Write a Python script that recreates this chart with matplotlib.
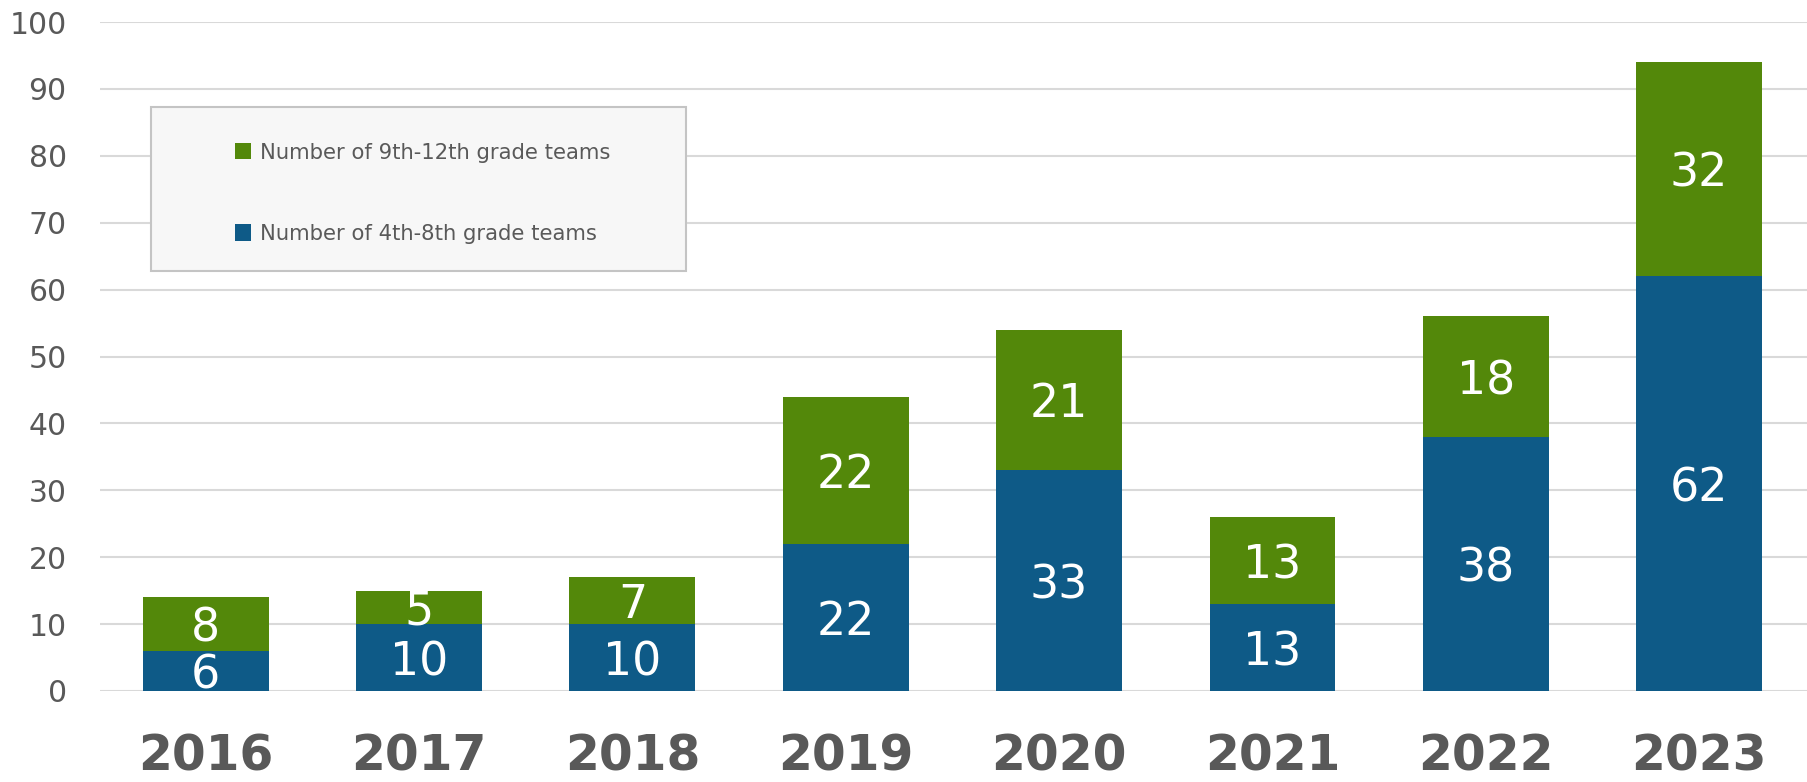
import numpy as np
import matplotlib
matplotlib.use('Agg')
import matplotlib.pyplot as plt
from matplotlib.patches import Rectangle

years = ['2016', '2017', '2018', '2019', '2020', '2021', '2022', '2023']
grades_4_8 = [6, 10, 10, 22, 33, 13, 38, 62]
grades_9_12 = [8, 5, 7, 22, 21, 13, 18, 32]
label_4_8 = 'Number of 4th-8th grade teams'
label_9_12 = 'Number of 9th-12th grade teams'

blue = '#0e5a87'
green = '#53880a'
grey_text = '#595959'

fig = plt.figure(figsize=(18.08, 7.82), dpi=100)
ax = fig.add_axes([100 / 1808, 91 / 782, 1708 / 1808, 669 / 782])

x = np.arange(len(years))
b1 = ax.bar(x, grades_4_8, width=0.59, color=blue, label=label_4_8, zorder=3)
b2 = ax.bar(x, grades_9_12, width=0.59, bottom=grades_4_8, color=green,
            label=label_9_12, zorder=3)
labels = ax.bar_label(b1, label_type='center', color='white', fontsize=33, zorder=4)
labels += ax.bar_label(b2, label_type='center', color='white', fontsize=33, zorder=4)
for t in labels:
    t.set_va('center_baseline')

ax.set_xlim(-0.495, 7.51)
ax.set_ylim(0, 100)
ax.set_yticks(range(0, 101, 10))
ax.set_xticks(x)
ax.set_xticklabels(years, fontsize=35, fontweight='bold', color=grey_text)
ax.tick_params(axis='x', length=0, pad=30)
ax.tick_params(axis='y', length=0, pad=24, labelsize=21.5, labelcolor=grey_text)
ax.grid(axis='y', color='#d9d9d9', linewidth=1.5, zorder=0)
for s in ax.spines.values():
    s.set_visible(False)

# legend box
box = Rectangle((151 / 1808, 1 - 271 / 782), 535 / 1808, 164 / 782,
                transform=fig.transFigure, facecolor='#f7f7f7',
                edgecolor='#c4c4c4', linewidth=1.5, zorder=5)
fig.patches.append(box)
leg = fig.legend(handles=[b2, b1], labels=[label_9_12, label_4_8],
                 loc='upper left', bbox_to_anchor=(224 / 1808, 1 - 132 / 782),
                 frameon=False, fontsize=15.2, labelcolor=grey_text,
                 handlelength=0.8, handleheight=0.8, handletextpad=0.4,
                 labelspacing=2.9, borderpad=0)
leg.set_zorder(6)

fig.savefig('out.png', dpi=100)
